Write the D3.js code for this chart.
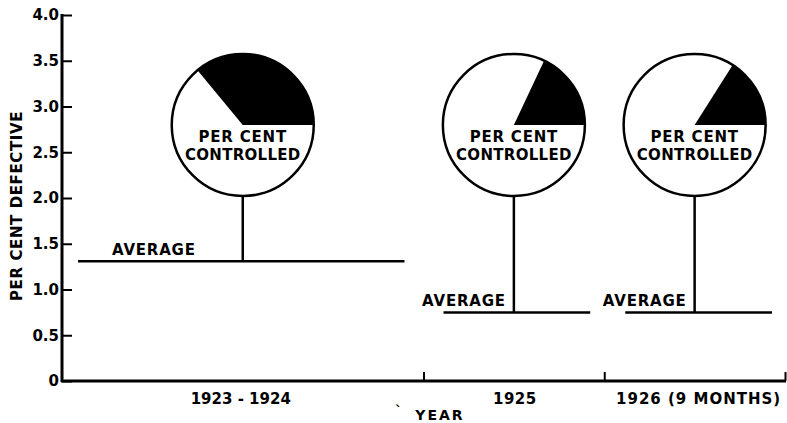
<!DOCTYPE html>
<html>
<head>
<meta charset="utf-8">
<script src="https://cdn.jsdelivr.net/npm/d3@7"></script>
<style>
  html, body { margin: 0; padding: 0; background: #fff; }
  svg { display: block; }
  text { font-family: "DejaVu Sans", sans-serif; font-weight: bold; fill: #000; }
</style>
</head>
<body>
<svg id="chart" width="787" height="423"></svg>
<script>
// ---- data ----
const categories = ["1923 - 1924", "1925", "1926 (9 MONTHS)"];
const periodYears = [2, 1, 1];              // width of each period on the year axis
const averageDefective = [1.31, 0.75, 0.75]; // per cent defective (average)
const percentControlled = [64, 82, 84];      // white part of each circle
const yTicks = [0, 0.5, 1.0, 1.5, 2.0, 2.5, 3.0, 3.5, 4.0];
const yTickLabels = ["0", "0.5", "1.0", "1.5", "2.0", "2.5", "3.0", "3.5", "4.0"];

(function () {
// ---- layout ----
const svg = d3.select("#chart");
const mLeft = 62, mRight = 785, mTop = 15, mBottom = 381;
const starts = [];
periodYears.reduce((acc, w) => { starts.push(acc); return acc + w; }, 0);
const totalYears = d3.sum(periodYears);
const x = d3.scaleLinear().domain([0, totalYears]).range([mLeft, mRight]);
const y = d3.scaleLinear().domain([0, 4]).range([mBottom, mTop]);

const pieCenterY = 125, pieR = 71;
const lineInsetL = [16, 20, 21], lineInsetR = [19, 14, 13];
const avgLabelDx = [-47, -8, -8];
const catSpacing = [0, 0.5, 1];
const catDx = [-2, 1, 4];

// y axis
const yAxis = d3.axisLeft(y).tickValues(yTicks)
  .tickFormat((d, i) => yTickLabels[i]).tickSize(-10).tickPadding(3);
const gy = svg.append("g").attr("transform", `translate(${mLeft},0)`).call(yAxis);
gy.select(".domain").remove();
gy.attr("font-family", null).attr("font-size", null);
gy.selectAll(".tick line").attr("stroke", "#000").attr("stroke-width", 2);
gy.selectAll(".tick text").style("font-size", "15px");
svg.append("line").attr("x1", mLeft).attr("x2", mLeft).attr("y1", y(4) - 1).attr("y2", mBottom + 1)
  .attr("stroke", "#000").attr("stroke-width", 3);

// x axis
const boundaries = starts.slice(1).concat([totalYears]);
const xAxis = d3.axisBottom(x).tickValues(boundaries).tickSize(-9).tickFormat("");
const gx = svg.append("g").attr("transform", `translate(0,${mBottom})`).call(xAxis);
gx.select(".domain").remove();
gx.selectAll(".tick line").attr("stroke", "#000").attr("stroke-width", 2);
svg.append("line").attr("x1", mLeft - 1).attr("x2", mRight + 1).attr("y1", mBottom).attr("y2", mBottom)
  .attr("stroke", "#000").attr("stroke-width", 3);

// category labels
svg.selectAll("text.cat").data(categories).enter().append("text")
  .attr("class", "cat")
  .attr("x", (d, i) => x(starts[i] + periodYears[i] / 2) + catDx[i])
  .attr("y", 404)
  .attr("text-anchor", "middle")
  .style("font-size", "15px").style("letter-spacing", (d, i) => catSpacing[i] + "px")
  .text(d => d);

// axis titles
svg.append("text").attr("x", 395).attr("y", 416).style("font-size", "14px").text("`");
svg.append("text").attr("x", 440).attr("y", 420).attr("text-anchor", "middle")
  .style("font-size", "14px").style("letter-spacing", "2px").text("YEAR");
svg.append("text").attr("transform", "translate(22,206) rotate(-90)")
  .attr("text-anchor", "middle").style("font-size", "15px").style("letter-spacing", "0.6px")
  .text("PER CENT DEFECTIVE");

// groups per period
const groups = categories.map((c, i) => ({
  cat: c, i,
  cx: x(starts[i] + periodYears[i] / 2),
  x0: x(starts[i]) + lineInsetL[i],
  x1: x(starts[i] + periodYears[i]) - lineInsetR[i],
  avg: averageDefective[i],
  ctrl: percentControlled[i]
}));

// average lines
svg.selectAll("line.avg").data(groups).enter().append("line")
  .attr("class", "avg")
  .attr("x1", d => d.x0).attr("x2", d => d.x1)
  .attr("y1", d => y(d.avg)).attr("y2", d => y(d.avg))
  .attr("stroke", "#000").attr("stroke-width", 2.5);
svg.selectAll("text.avgl").data(groups).enter().append("text")
  .attr("class", "avgl")
  .attr("x", d => d.cx + avgLabelDx[d.i]).attr("y", d => y(d.avg) - 6)
  .attr("text-anchor", "end").style("font-size", "15px").style("letter-spacing", "0.8px")
  .text("AVERAGE");

// stems
svg.selectAll("line.stem").data(groups).enter().append("line")
  .attr("class", "stem")
  .attr("x1", d => d.cx).attr("x2", d => d.cx)
  .attr("y1", pieCenterY + pieR).attr("y2", d => y(d.avg))
  .attr("stroke", "#000").attr("stroke-width", 2.5);

// pies
const pie = d3.pie().sort(null).startAngle(Math.PI / 2).endAngle(Math.PI / 2 + 2 * Math.PI);
const arc = d3.arc().innerRadius(0).outerRadius(pieR);
groups.forEach(g => {
  const pg = svg.append("g").attr("transform", `translate(${g.cx},${pieCenterY})`);
  const slices = pie([g.ctrl, 100 - g.ctrl]);
  pg.selectAll("path").data(slices).enter().append("path")
    .attr("d", arc).attr("fill", (d, j) => j === 0 ? "#fff" : "#000").attr("stroke", "none");
  pg.append("circle").attr("r", pieR).attr("fill", "none").attr("stroke", "#000").attr("stroke-width", 2.5);
  pg.append("text").attr("x", 0).attr("y", 17).attr("text-anchor", "middle")
    .style("font-size", "15px").style("letter-spacing", "0.8px").text("PER CENT");
  pg.append("text").attr("x", 0).attr("y", 35).attr("text-anchor", "middle")
    .style("font-size", "15px").style("letter-spacing", "0.3px").text("CONTROLLED");
});
})();
</script>
</body>
</html>
